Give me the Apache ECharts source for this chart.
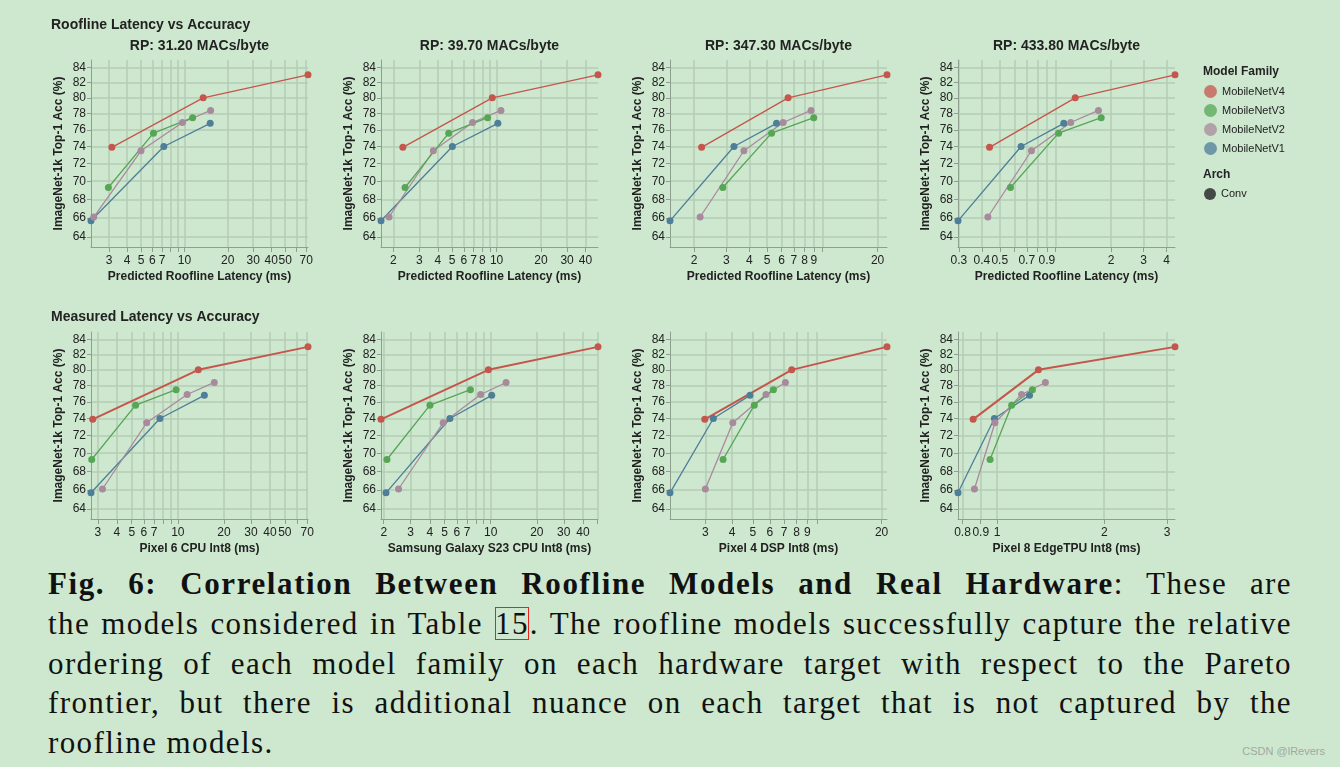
<!DOCTYPE html>
<html>
<head>
<meta charset="utf-8">
<script src="https://cdn.jsdelivr.net/npm/echarts@6/dist/echarts.min.js"></script>
<style>
    html, body { margin: 0; padding: 0; background: #cde8cf; }
    #chart { position: absolute; left: 0; top: 0; width: 1340px; height: 560px; }
    #caption { position: absolute; left: 48px; top: 564px; width: 1244px;
        font-family: "Liberation Serif", "Times New Roman", serif; font-size: 31px; letter-spacing: 1.4px; color: #111; }
    #caption .ln { height: 39.75px; line-height: 39.75px; text-align: justify; text-align-last: justify; }
    #caption .ln.last { text-align-last: left; }
    #caption b { letter-spacing: 1.6px; }
    #caption .ref { outline: 1.5px solid #e8221c; outline-offset: -2px; padding: 0 1px; }
    #mark { position: absolute; right: 15px; top: 745px; font-family: "Liberation Sans", Arial, sans-serif;
        font-size: 11px; color: #a0a8a0; }
</style>
</head>
<body>
<div id="chart"></div>
<div id="caption">
    <div class="ln"><b>Fig. 6: Correlation Between Roofline Models and Real Hardware</b>: These are</div>
    <div class="ln">the models considered in Table <span class="ref">15</span>. The roofline models successfully capture the relative</div>
    <div class="ln">ordering of each model family on each hardware target with respect to the Pareto</div>
    <div class="ln">frontier, but there is additional nuance on each target that is not captured by the</div>
    <div class="ln last">roofline models.</div>
</div>
<div id="mark">CSDN @lRevers</div>
<script>
var families = ['MobileNetV4', 'MobileNetV3', 'MobileNetV2', 'MobileNetV1'];
var colors = ['#c4564c', '#56a656', '#a88a9c', '#4f7e98'];

// top-1 accuracy of each model, same for every panel
var accV4 = [73.9, 80.0, 83.0];
var accV3 = [69.3, 75.6, 77.5];
var accV2 = [66.1, 73.5, 76.9, 78.4];
var accV1 = [65.7, 74.0, 76.8];

// latency (ms), rows: V4, V3, V2, V1
var latRP31 = [[3.14, 13.5, 72], [2.97, 6.1, 11.4], [2.35, 5.0, 9.7, 15.2], [2.25, 7.2, 15.1]];
var latRP39 = [[2.32, 9.35, 48.6], [2.40, 4.74, 8.7], [1.87, 3.73, 6.88, 10.7], [1.65, 5.02, 10.2]];
var latRP347 = [[2.20, 6.51, 22.5], [2.87, 5.29, 8.98], [2.16, 3.74, 6.12, 8.68], [1.48, 3.30, 5.63]];
var latRP433 = [[0.44, 1.28, 4.44], [0.571, 1.04, 1.77], [0.431, 0.742, 1.21, 1.71], [0.297, 0.652, 1.11]];
var latPixel6 = [[2.78, 13.6, 70.8], [2.74, 5.30, 9.75], [3.22, 6.26, 11.5, 17.3], [2.71, 7.64, 14.9]];
var latS23 = [[1.92, 9.65, 50.2], [2.10, 4.01, 7.37], [2.50, 4.89, 8.59, 12.6], [2.07, 5.41, 10.15]];
var latPixel4 = [[2.98, 7.60, 21.2], [3.63, 5.08, 6.24], [3.0, 4.03, 5.76, 7.10], [2.05, 3.27, 4.85]];
var latEdgeTPU = [[0.857, 1.307, 3.16], [0.956, 1.099, 1.257], [0.864, 0.987, 1.172, 1.367], [0.777, 0.983, 1.234]];

// tick marks and tick labels
var yTicks = [64, 66, 68, 70, 72, 74, 76, 78, 80, 82, 84];
var ticksA = [3, 4, 5, 6, 7, 8, 9, 10, 20, 30, 40, 50, 60, 70];
var labelsA = [3, 4, 5, 6, 7, 10, 20, 30, 40, 50, 70];
var ticksB = [2, 3, 4, 5, 6, 7, 8, 9, 10, 20, 30, 40, 50];
var labelsB = [2, 3, 4, 5, 6, 7, 8, 10, 20, 30, 40];
var ticksC = [2, 3, 4, 5, 6, 7, 8, 9, 10, 20];
var labelsC = [2, 3, 4, 5, 6, 7, 8, 9, 20];
var ticksD = [0.3, 0.4, 0.5, 0.6, 0.7, 0.8, 0.9, 1, 2, 3, 4];
var labelsD = [0.3, 0.4, 0.5, 0.7, 0.9, 2, 3, 4];
var labelsS23 = [2, 3, 4, 5, 6, 7, 10, 20, 30, 40];
var ticksP4 = [3, 4, 5, 6, 7, 8, 9, 10, 20];
var labelsP4 = [3, 4, 5, 6, 7, 8, 9, 20];
var ticksTPU = [0.8, 0.9, 1, 2, 3];

var panelTitles = ['RP: 31.20 MACs/byte', 'RP: 39.70 MACs/byte', 'RP: 347.30 MACs/byte', 'RP: 433.80 MACs/byte'];
var xNames = ['Predicted Roofline Latency (ms)', 'Predicted Roofline Latency (ms)', 'Predicted Roofline Latency (ms)',
    'Predicted Roofline Latency (ms)', 'Pixel 6 CPU Int8 (ms)', 'Samsung Galaxy S23 CPU Int8 (ms)',
    'Pixel 4 DSP Int8 (ms)', 'Pixel 8 EdgeTPU Int8 (ms)'];

var lats = [latRP31, latRP39, latRP347, latRP433, latPixel6, latS23, latPixel4, latEdgeTPU];
var ticks = [ticksA, ticksB, ticksC, ticksD, ticksA, ticksB, ticksP4, ticksTPU];
var labels = [labelsA, labelsB, labelsC, labelsD, labelsA, labelsS23, labelsP4, ticksTPU];
var accs = [accV4, accV3, accV2, accV1];

var font = '"Liberation Sans", Arial, sans-serif';
var ink = '#222';
var gridLefts = [91, 381, 670, 958];
var gridTops = [60, 332];
var gridW = 217, gridH = 187;

var grids = [], xAxes = [], yAxes = [], series = [], graphics = [];

function fmt(v) {
    return String(+v.toFixed(2));
}

for (var p = 0; p < 8; p++) {
    var col = p % 4, row = Math.floor(p / 4);
    grids.push({ left: gridLefts[col], top: gridTops[row], width: gridW, height: gridH });
    xAxes.push({
        type: 'log', gridIndex: p, min: 'dataMin', max: 'dataMax',
        name: xNames[p], nameLocation: 'middle', nameGap: 24,
        nameTextStyle: { fontWeight: 'bold', fontSize: 12, color: ink, fontFamily: font },
        axisLine: { show: true, lineStyle: { color: '#8f9f8f' } },
        axisTick: { show: true, length: 5, customValues: ticks[p], lineStyle: { color: '#8f9f8f' } },
        axisLabel: { customValues: labels[p], fontSize: 12, color: ink, margin: 8, hideOverlap: false, formatter: fmt },
        splitLine: { show: true, lineStyle: { color: '#b3cdb3', width: 1.5 } }
    });
    yAxes.push({
        type: 'log', gridIndex: p, min: 63, max: 85,
        name: 'ImageNet-1k Top-1 Acc (%)', nameLocation: 'middle', nameGap: 26,
        nameTextStyle: { fontWeight: 'bold', fontSize: 12, color: ink, fontFamily: font },
        axisLine: { show: true, lineStyle: { color: '#8f9f8f' } },
        axisTick: { show: true, length: 4, customValues: yTicks, lineStyle: { color: '#8f9f8f' } },
        axisLabel: { customValues: yTicks, fontSize: 12, color: ink, margin: 5, formatter: fmt },
        splitLine: { show: true, lineStyle: { color: '#b3cdb3', width: 1.5 } }
    });
    // draw V1 first so V4 ends up on top
    for (var f = 3; f >= 0; f--) {
        var pts = lats[p][f].map(function (x, i) {
            return [x, accs[f][i]];
        });
        series.push({
            name: families[f], type: 'line', xAxisIndex: p, yAxisIndex: p,
            data: pts, symbol: 'circle', symbolSize: 7, clip: false,
            itemStyle: { color: colors[f] },
            lineStyle: { color: colors[f], width: (f === 0 && row === 1) ? 2 : 1.3 },
            emphasis: { disabled: true }
        });
    }
    if (row === 0) {
        graphics.push({
            type: 'text', x: gridLefts[col] + gridW / 2, y: 46,
            style: { text: panelTitles[col], font: 'bold 14px ' + font, fill: ink, textAlign: 'center', textVerticalAlign: 'middle' }
        });
    }
}

series.push({ name: 'Conv', type: 'scatter', xAxisIndex: 0, yAxisIndex: 0, data: [], itemStyle: { color: '#222' } });

graphics.push(
    { type: 'text', x: 51, y: 25, style: { text: 'Roofline Latency vs Accuracy', font: 'bold 14px ' + font, fill: ink, textVerticalAlign: 'middle' } },
    { type: 'text', x: 51, y: 317, style: { text: 'Measured Latency vs Accuracy', font: 'bold 14px ' + font, fill: ink, textVerticalAlign: 'middle' } },
    { type: 'text', x: 1203, y: 72, style: { text: 'Model Family', font: 'bold 12px ' + font, fill: ink, textVerticalAlign: 'middle' } },
    { type: 'text', x: 1203, y: 175, style: { text: 'Arch', font: 'bold 12px ' + font, fill: ink, textVerticalAlign: 'middle' } }
);

var myChart = echarts.init(document.getElementById('chart'));
var option = {
    animation: false,
    textStyle: { fontFamily: font },
    grid: grids,
    xAxis: xAxes,
    yAxis: yAxes,
    legend: [{
        data: families, orient: 'vertical', left: 1204, top: 85, padding: 0,
        icon: 'circle', itemWidth: 13, itemHeight: 13, itemGap: 6,
        itemStyle: { opacity: 0.75 },
        textStyle: { fontSize: 11, color: ink }
    }, {
        data: ['Conv'], orient: 'vertical', left: 1204, top: 188, padding: 0,
        icon: 'circle', itemWidth: 12, itemHeight: 12,
        textStyle: { fontSize: 11, color: ink }
    }],
    graphic: graphics,
    series: series
};
myChart.setOption(option);
</script>
</body>
</html>
